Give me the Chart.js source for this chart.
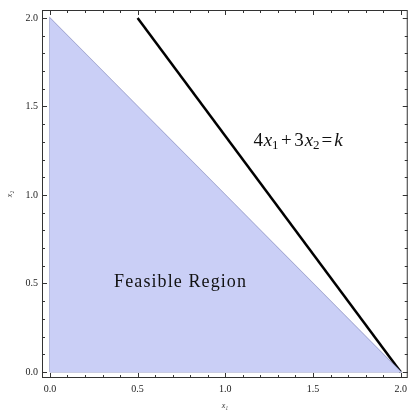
<!DOCTYPE html>
<html>
<head>
<meta charset="utf-8">
<script src="https://cdn.jsdelivr.net/npm/chart.js@4/dist/chart.umd.min.js"></script>
<style>
  html, body { margin: 0; padding: 0; background: #fff; }
  #wrap { width: 412px; height: 411px; }
</style>
</head>
<body>
<div id="wrap"><canvas id="chart"></canvas></div>
<script>
// DATA
const xTicks = [0, 0.5, 1, 1.5, 2];
const yTicks = [0, 0.5, 1, 1.5, 2];
const edgeX = [0, 2];          // hypotenuse of feasible region
const edgeY = [2, 0];
const regionX = [0, 0, 2, 0];  // outline of feasible region
const regionY = [0, 2, 0, 0];
const lineX = [0.5, 2];
const lineY = [2, 0];
const regionLabel = "Feasible Region";

const serif = "'Liberation Serif', 'DejaVu Serif', serif";

function pts(xs, ys) {
  return xs.map((x, i) => ({ x: x, y: ys[i] }));
}

// frame + inward ticks, like the original
const framePlugin = {
  id: "frame",
  afterDraw(c) {
    const ctx = c.ctx;
    const a = c.chartArea;
    const sx = c.scales.x, sy = c.scales.y;
    ctx.save();
    ctx.strokeStyle = "#333";
    ctx.lineWidth = 1;
    ctx.strokeRect(a.left + 0.5, a.top + 0.5, a.right - a.left - 1, a.bottom - a.top - 1);
    ctx.beginPath();
    for (let i = 0; i <= 20; i++) {
      const v = i / 10;
      const len = (i % 5 === 0) ? 5 : 3;
      const px = Math.round(sx.getPixelForValue(v)) + 0.5;
      const py = Math.round(sy.getPixelForValue(v)) + 0.5;
      ctx.moveTo(px, a.bottom); ctx.lineTo(px, a.bottom - len);
      ctx.moveTo(px, a.top); ctx.lineTo(px, a.top + len);
      ctx.moveTo(a.left, py); ctx.lineTo(a.left + len, py);
      ctx.moveTo(a.right, py); ctx.lineTo(a.right - len, py);
    }
    ctx.stroke();
    ctx.restore();
  }
};

// text labels inside the plot
const labelPlugin = {
  id: "labels",
  afterDatasetsDraw(c) {
    const ctx = c.ctx;
    const sx = c.scales.x, sy = c.scales.y;
    ctx.save();
    ctx.fillStyle = "#111";
    ctx.textBaseline = "alphabetic";

    // Feasible Region
    ctx.font = "18px " + serif;
    ctx.textAlign = "center";
    ctx.letterSpacing = "1.1px";
    ctx.fillText(regionLabel, sx.getPixelForValue(0.745), sy.getPixelForValue(0.48));
    ctx.letterSpacing = "0px";

    // 4x1+3x2=k
    const parts = [
      ["4", "", 0, 0.8], ["x", "italic ", 0, 0], ["1", "", 1, 2.5], ["+", "", 0, 2.5], ["3", "", 0, 0.8],
      ["x", "italic ", 0, 0], ["2", "", 1, 2], ["=", "", 0, 2], ["k", "italic ", 0, 0]
    ];
    let x = sx.getPixelForValue(1.16);
    const base = sy.getPixelForValue(1.275);
    ctx.textAlign = "left";
    parts.forEach(p => {
      const size = p[2] ? 13 : 19;
      ctx.font = p[1] + size + "px " + serif;
      ctx.fillText(p[0], x, base + (p[2] ? 3 : 0));
      x += ctx.measureText(p[0]).width + p[3];
    });
    ctx.restore();
  }
};

const ctx = document.getElementById("chart").getContext("2d");

new Chart(ctx, {
  type: "scatter",
  data: {
    datasets: [
      {
        data: pts(edgeX, edgeY),
        showLine: true,
        fill: "origin",
        backgroundColor: "rgb(202,207,246)",
        borderWidth: 0,
        pointRadius: 0
      },
      {
        data: pts(regionX, regionY),
        showLine: true,
        fill: false,
        borderColor: "rgb(150,155,200)",
        borderWidth: 1.2,
        pointRadius: 0
      },
      {
        data: pts(lineX, lineY),
        showLine: true,
        fill: false,
        borderColor: "#000",
        borderWidth: 2.5,
        pointRadius: 0
      }
    ]
  },
  options: {
    responsive: true,
    maintainAspectRatio: false,
    animation: false,
    layout: { padding: { top: 8, right: 1, left: 0, bottom: 0 } },
    plugins: { legend: { display: false }, tooltip: { enabled: false } },
    scales: {
      x: {
        type: "linear",
        min: -0.045,
        max: 2.04,
        afterBuildTicks: s => { s.ticks = xTicks.map(v => ({ value: v })); },
        afterFit: s => { s.height = 33; },
        grid: { display: false, drawTicks: false },
        border: { display: false },
        ticks: {
          padding: 5,
          color: "#222",
          font: { family: serif, size: 10 },
          maxRotation: 0,
          callback: v => v.toFixed(1)
        },
        title: {
          display: true,
          text: "x\u2081",
          color: "#333",
          font: { family: serif, size: 8, style: "italic" },
          padding: { top: 4, bottom: 0 }
        }
      },
      y: {
        type: "linear",
        min: -0.034,
        max: 2.045,
        afterBuildTicks: s => { s.ticks = yTicks.map(v => ({ value: v })); },
        afterFit: s => { s.width = 42; },
        grid: { display: false, drawTicks: false },
        border: { display: false },
        ticks: {
          padding: 4,
          color: "#222",
          font: { family: serif, size: 10 },
          callback: v => v.toFixed(1)
        },
        title: {
          display: true,
          text: "x\u2082",
          color: "#333",
          font: { family: serif, size: 8, style: "italic" },
          padding: { top: 5, bottom: 0 }
        }
      }
    }
  },
  plugins: [framePlugin, labelPlugin]
});
</script>
</body>
</html>
